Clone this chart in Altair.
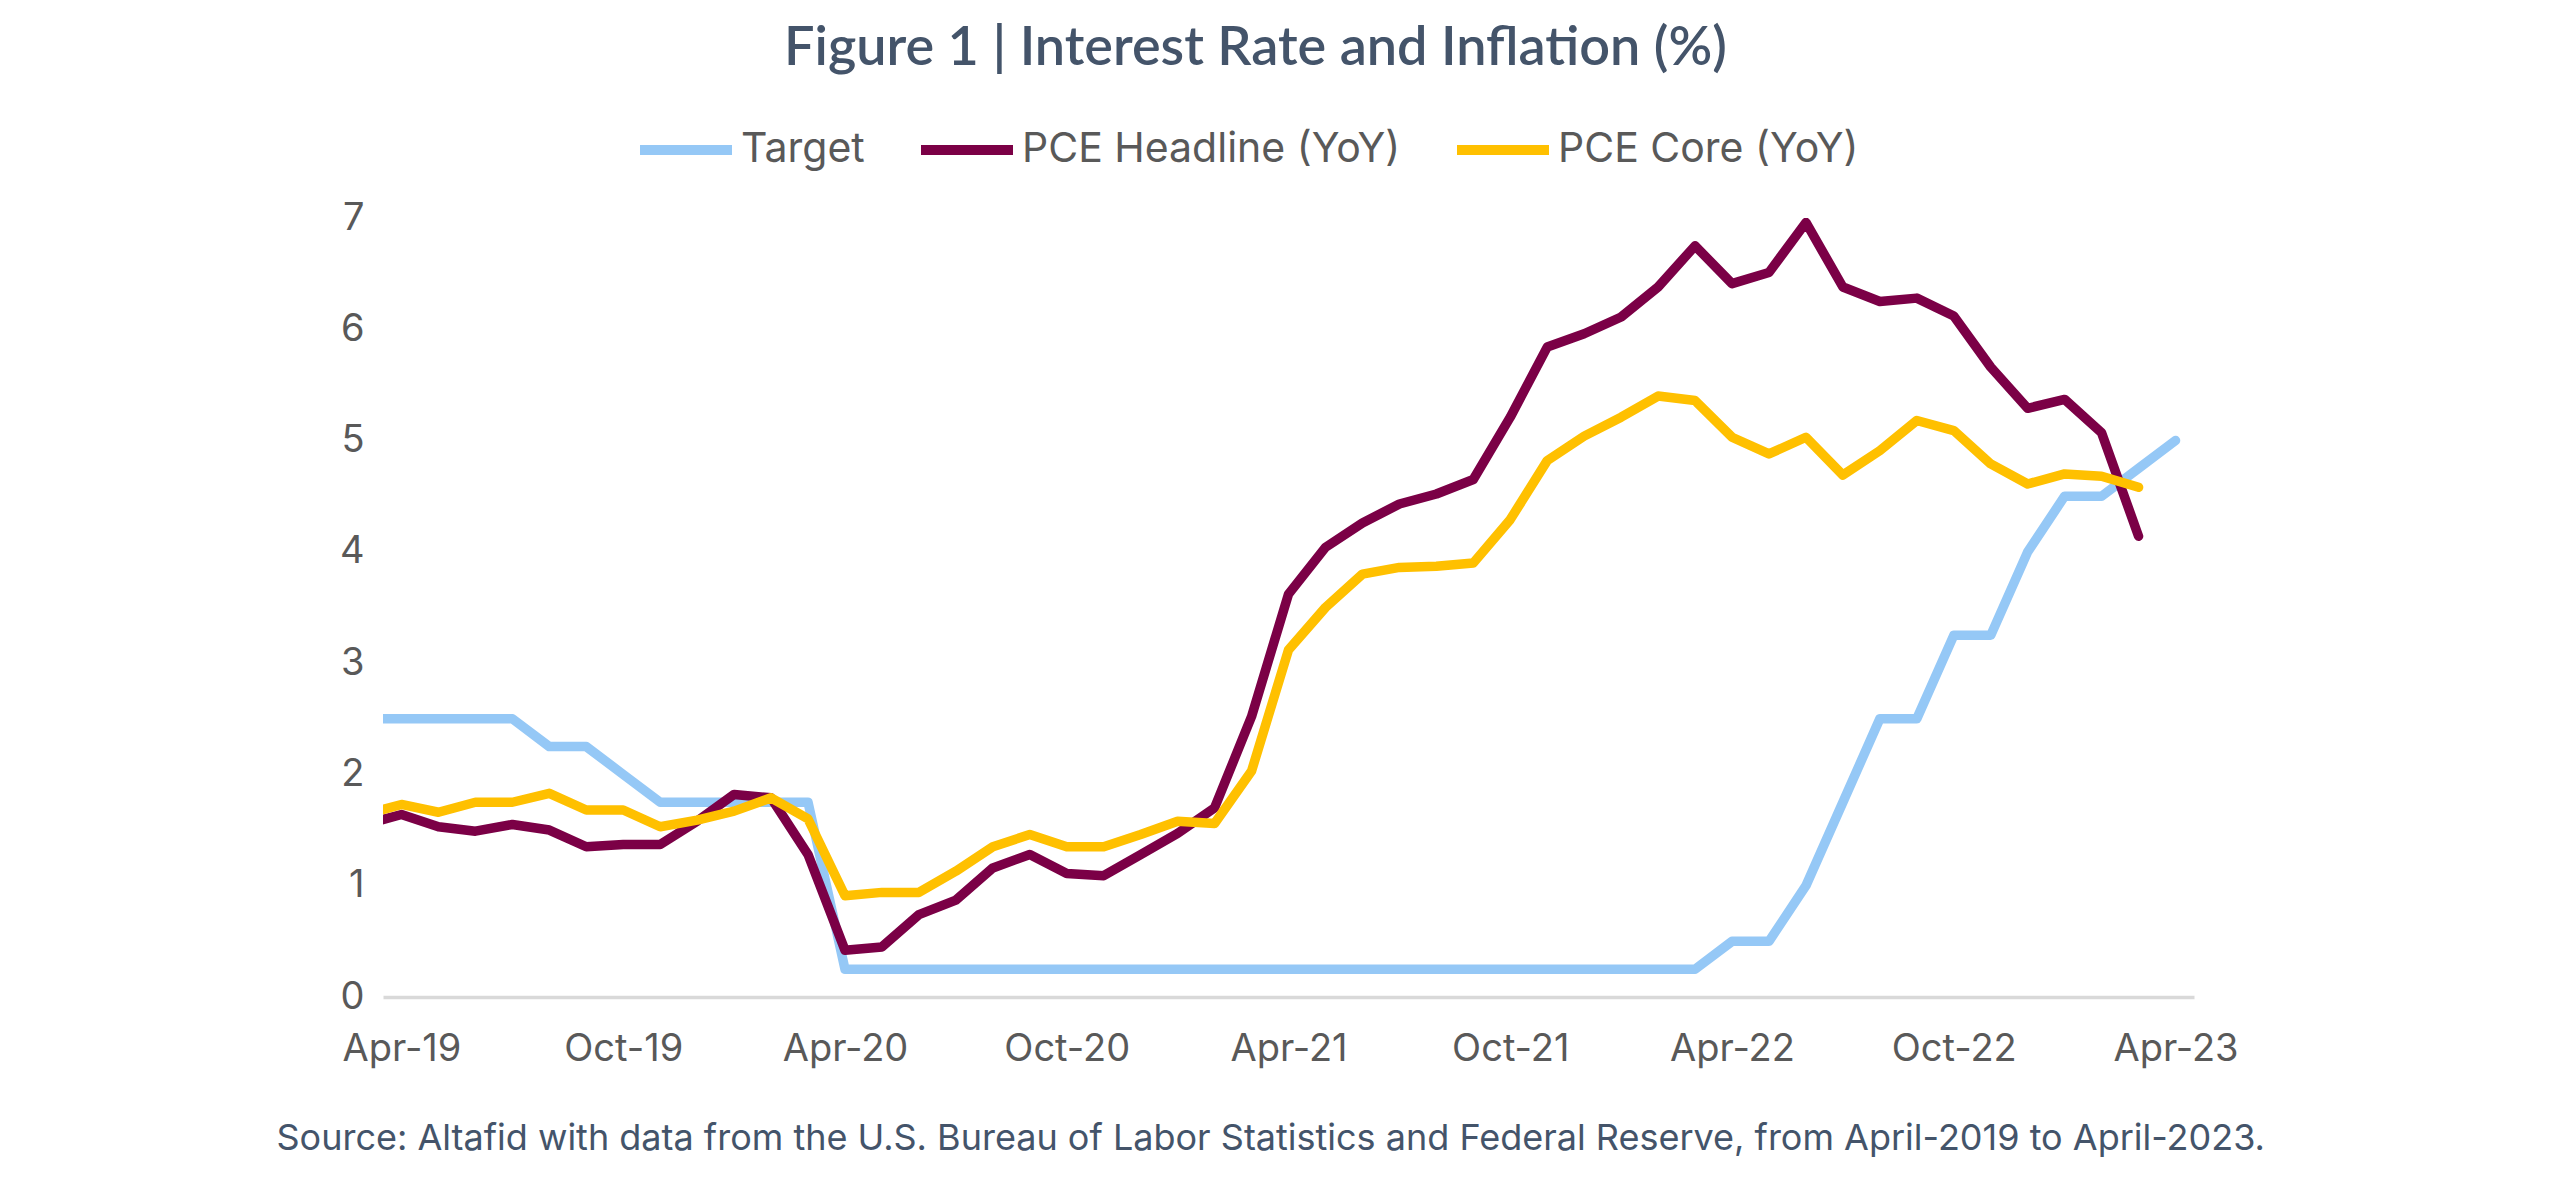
import altair as alt
import pandas as pd

months = [
    "Mar-19", "Apr-19", "May-19", "Jun-19", "Jul-19", "Aug-19", "Sep-19", "Oct-19", "Nov-19", "Dec-19",
    "Jan-20", "Feb-20", "Mar-20", "Apr-20", "May-20", "Jun-20", "Jul-20", "Aug-20", "Sep-20", "Oct-20",
    "Nov-20", "Dec-20", "Jan-21", "Feb-21", "Mar-21", "Apr-21", "May-21", "Jun-21", "Jul-21", "Aug-21",
    "Sep-21", "Oct-21", "Nov-21", "Dec-21", "Jan-22", "Feb-22", "Mar-22", "Apr-22", "May-22", "Jun-22",
    "Jul-22", "Aug-22", "Sep-22", "Oct-22", "Nov-22", "Dec-22", "Jan-23", "Feb-23", "Mar-23", "Apr-23",
]

target = [
    2.5, 2.5, 2.5, 2.5, 2.5, 2.25, 2.25, 2.0, 1.75, 1.75,
    1.75, 1.75, 1.75, 0.25, 0.25, 0.25, 0.25, 0.25, 0.25, 0.25,
    0.25, 0.25, 0.25, 0.25, 0.25, 0.25, 0.25, 0.25, 0.25, 0.25,
    0.25, 0.25, 0.25, 0.25, 0.25, 0.25, 0.25, 0.5, 0.5, 1.0,
    1.75, 2.5, 2.5, 3.25, 3.25, 4.0, 4.5, 4.5, 4.75, 5.0,
]

pce_headline = [
    1.55, 1.64, 1.53, 1.49, 1.55, 1.50, 1.35, 1.37, 1.37, 1.58,
    1.82, 1.79, 1.28, 0.42, 0.45, 0.74, 0.87, 1.16, 1.28, 1.11,
    1.09, 1.28, 1.47, 1.70, 2.52, 3.62, 4.04, 4.26, 4.43, 4.52,
    4.65, 5.21, 5.84, 5.96, 6.11, 6.38, 6.75, 6.41, 6.51, 6.96,
    6.38, 6.25, 6.28, 6.12, 5.66, 5.29, 5.37, 5.07, 4.14,
]

pce_core = [
    1.64, 1.73, 1.66, 1.75, 1.75, 1.83, 1.68, 1.68, 1.53, 1.59,
    1.67, 1.79, 1.60, 0.91, 0.94, 0.94, 1.13, 1.35, 1.46, 1.35,
    1.35, 1.46, 1.58, 1.56, 2.03, 3.12, 3.50, 3.80, 3.86, 3.87,
    3.90, 4.29, 4.82, 5.04, 5.21, 5.40, 5.36, 5.03, 4.88, 5.03,
    4.69, 4.91, 5.18, 5.09, 4.79, 4.61, 4.70, 4.68, 4.58,
]

series_names = ["Target", "PCE Headline (YoY)", "PCE Core (YoY)"]
series_colors = ["#95C8F6", "#7B0046", "#FFC000"]
tick_labels = ["Apr-19", "Oct-19", "Apr-20", "Oct-20", "Apr-21", "Oct-21", "Apr-22", "Oct-22", "Apr-23"]
y_ticks = [0, 1, 2, 3, 4, 5, 6, 7]

title_text = "Figure 1 | Interest Rate and Inflation (%)"
source_text = ("Source: Altafid with data from the U.S. Bureau of Labor Statistics and Federal Reserve, "
               "from April-2019 to April-2023.")

# month index: Apr-19 = 0 (Mar-19 = -1 lies just outside the axis and is clipped)
rows = []
for name, vals in zip(series_names, [target, pce_headline, pce_core]):
    for i, v in enumerate(vals):
        rows.append({"idx": i - 1, "month": months[i], "series": name, "value": v})
df = pd.DataFrame(rows)

tick_idx = [months.index(m) - 1 for m in tick_labels]
label_js = "[" + ",".join("'%s'" % m for m in months) + "][datum.value + 1]"

AX_FONT = "Inter"
AX_COLOR = "#595959"

base = alt.Chart(df).encode(
    x=alt.X(
        "idx:Q",
        scale=alt.Scale(domain=[-0.5, 48.5], nice=False, zero=False),
        axis=alt.Axis(
            values=tick_idx,
            labelExpr=label_js,
            labelFlush=False,
            labelFont=AX_FONT,
            labelFontSize=38,
            labelColor=AX_COLOR,
            labelPadding=33,
            ticks=False,
            grid=False,
            domainColor="#D9D9D9",
            domainWidth=3.5,
            title=source_text,
            titleFont=AX_FONT,
            titleFontSize=36,
            titleFontWeight="normal",
            titleColor="#44546A",
            titleAnchor="start",
            titleAlign="left",
            titleX=-107,
            titleY=152,
            titleBaseline="alphabetic",
            titleLimit=0,
        ),
    ),
    y=alt.Y(
        "value:Q",
        scale=alt.Scale(domain=[0, 7], nice=False),
        axis=alt.Axis(
            values=y_ticks,
            labelFont=AX_FONT,
            labelFontSize=38,
            labelColor=AX_COLOR,
            labelPadding=19,
            ticks=False,
            grid=False,
            domain=False,
            title=None,
        ),
    ),
    color=alt.Color(
        "series:N",
        scale=alt.Scale(domain=series_names, range=series_colors),
        legend=alt.Legend(
            title=None,
            orient="none",
            direction="horizontal",
            columns=3,
            legendX=252,
            legendY=-119,
            symbolType="stroke",
            symbolSize=8464,
            symbolStrokeWidth=10,
            labelFont=AX_FONT,
            labelFontSize=41,
            labelColor=AX_COLOR,
            labelOffset=4,
            labelLimit=0,
            columnPadding=36,
            padding=0,
        ),
    ),
)

layers = [
    base.transform_filter(alt.datum.series == s).mark_line(
        strokeWidth=9.5, strokeCap="round", strokeJoin="round", clip=True
    )
    for s in series_names
]

chart = (
    alt.layer(*layers)
    .properties(
        width=1811,
        height=779,
        title=alt.TitleParams(
            text=title_text,
            font="Lato",
            fontSize=54,
            fontWeight=600,
            color="#44546A",
            anchor="middle",
            frame="group",
            dx=-33,
            dy=20,
            offset=0,
            baseline="alphabetic",
        ),
        autosize=alt.AutoSizeParams(type="none"),
        padding={"left": 375, "top": 210, "right": 360, "bottom": 168},
        background="white",
    )
    .configure_view(stroke=None)
)

chart.save("out.html", embed_options={"renderer": "svg", "actions": False})
